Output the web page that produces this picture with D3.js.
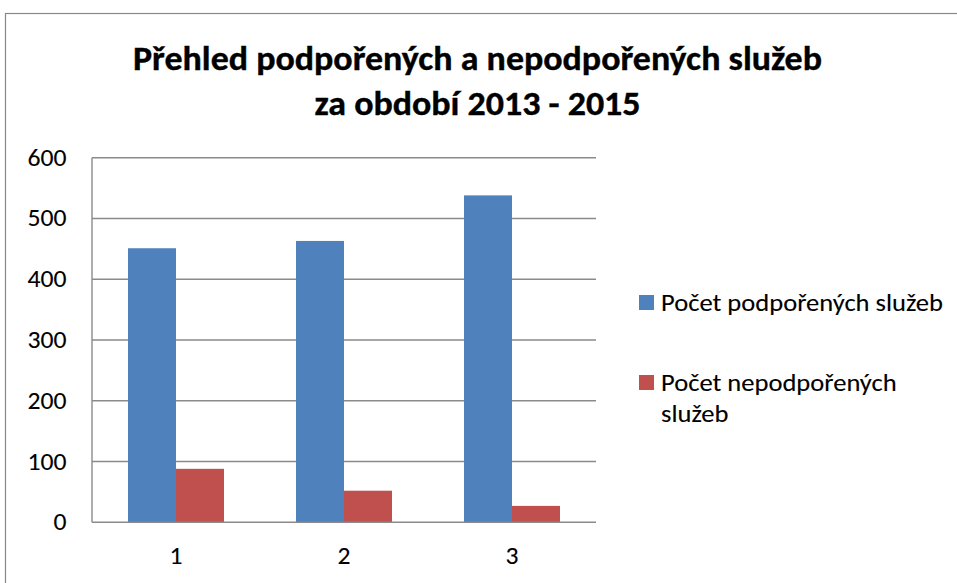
<!DOCTYPE html>
<html><head><meta charset="utf-8">
<script src="https://cdn.jsdelivr.net/npm/d3@7"></script>
<style>html,body{margin:0;padding:0;background:#fff;overflow:hidden}</style>
</head><body>
<svg id="c" width="957" height="583"></svg>
<script>
const categories = ["1", "2", "3"];
const seriesNames = ["Počet podpořených služeb", "Počet nepodpořených služeb"];
const supported = [451, 463, 538];
const unsupported = [88, 52, 27];
const yTicks = [0, 100, 200, 300, 400, 500, 600];
const titleLines = ["Přehled podpořených a nepodpořených služeb", "za období 2013 - 2015"];
const colors = ["#4F81BD", "#C0504D"];

(function () {
const FONT = "Carlito, 'Open Sans', 'Liberation Sans', sans-serif";
const svg = d3.select("#c");

function squeeze(sel, factor) {
  sel.each(function () {
    const w = this.getComputedTextLength();
    d3.select(this).attr("textLength", (w * factor).toFixed(2)).attr("lengthAdjust", "spacingAndGlyphs");
  });
}
function factorFor(node, target) { return target / node.getComputedTextLength(); }

// outer chart border
svg.append("rect").attr("x", 5.5).attr("y", 13.5).attr("width", 1000).attr("height", 1000)
  .attr("fill", "#fff").attr("stroke", "#888").attr("stroke-width", 1.2);

const pL = 92, pR = 596, pT = 157.7, pB = 522.3;
const x = d3.scaleBand().domain(categories).range([pL, pR]).paddingInner(0.4286).paddingOuter(0.2143);
const xs = d3.scaleBand().domain([0, 1]).range([0, x.bandwidth()]);
const y = d3.scaleLinear().domain([0, 600]).range([pB, pT]);

// gridlines
svg.append("g").selectAll("line").data(yTicks.filter(t => t > 0)).join("line")
  .attr("x1", pL).attr("x2", pR).attr("y1", d => y(d)).attr("y2", d => y(d))
  .attr("stroke", "#8a8a8a").attr("stroke-width", 1.4);

// bars
const data = categories.map((c, i) => ({c, vals: [supported[i], unsupported[i]]}));
const g = svg.append("g").selectAll("g").data(data).join("g")
  .attr("transform", d => `translate(${x(d.c)},0)`);
g.selectAll("rect").data(d => d.vals.map((v, k) => ({v, k}))).join("rect")
  .attr("x", d => xs(d.k)).attr("width", xs.bandwidth())
  .attr("y", d => y(d.v)).attr("height", d => y(0) - y(d.v))
  .attr("fill", d => colors[d.k]);

// axes lines
svg.append("line").attr("x1", pL).attr("x2", pL).attr("y1", pT).attr("y2", pB)
  .attr("stroke", "#8a8a8a").attr("stroke-width", 1.4);
svg.append("line").attr("x1", pL).attr("x2", pR).attr("y1", pB).attr("y2", pB)
  .attr("stroke", "#8a8a8a").attr("stroke-width", 1.6);

const TXT_STROKE = 0.1;

// y labels
const yl = svg.append("g").selectAll("text").data(yTicks).join("text")
  .attr("x", 66.5).attr("y", d => y(d) + 8).attr("text-anchor", "end")
  .attr("font-family", FONT).attr("font-size", 23.5).attr("fill", "#000")
  .attr("stroke", "#000").attr("stroke-width", TXT_STROKE).text(d => d);
const fy = factorFor(yl.filter(d => d === 600).node(), 39);
squeeze(yl, fy);

// x labels
const xl = svg.append("g").selectAll("text").data(categories).join("text")
  .attr("x", d => x(d) + x.bandwidth() / 2).attr("y", 564).attr("text-anchor", "middle")
  .attr("font-family", FONT).attr("font-size", 23.5).attr("fill", "#000")
  .attr("stroke", "#000").attr("stroke-width", TXT_STROKE).text(d => d);
squeeze(xl, fy);

// title
const t1 = svg.append("text").attr("x", 477.5).attr("y", 70).attr("text-anchor", "middle")
  .attr("font-family", FONT).attr("font-weight", "bold").attr("font-size", 35).attr("fill", "#000")
  .attr("stroke", "#000").attr("stroke-width", 0.4).text(titleLines[0]);
const t2 = svg.append("text").attr("x", 477.5).attr("y", 115).attr("text-anchor", "middle")
  .attr("font-family", FONT).attr("font-weight", "bold").attr("font-size", 35).attr("fill", "#000")
  .attr("stroke", "#000").attr("stroke-width", 0.4).text(titleLines[1]);
const ft = factorFor(t1.node(), 689);
squeeze(t1, ft); squeeze(t2, ft);

// legend
const lg = svg.append("g");
lg.append("rect").attr("x", 639).attr("y", 295).attr("width", 15).attr("height", 15).attr("fill", colors[0]);
lg.append("rect").attr("x", 639).attr("y", 375).attr("width", 15).attr("height", 15).attr("fill", colors[1]);
const words = seriesNames[1].split(" ");
const legendLines = [
  {t: seriesNames[0], y: 311},
  {t: words.slice(0, 2).join(" "), y: 391},
  {t: words.slice(2).join(" "), y: 422}
];
const lt = lg.selectAll("text").data(legendLines).join("text")
  .attr("x", 661).attr("y", d => d.y).attr("font-family", FONT).attr("font-size", 24)
  .attr("fill", "#000").attr("stroke", "#000").attr("stroke-width", TXT_STROKE).text(d => d.t);
const fl = factorFor(lt.node(), 282);
squeeze(lt, fl);
})();
</script>
</body></html>
